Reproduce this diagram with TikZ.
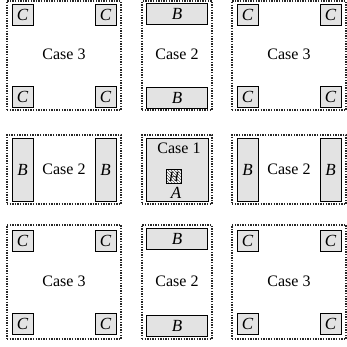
\documentclass[tikz,border=0pt]{standalone}
\usepackage{fontspec}
\setmainfont{Liberation Serif}
\usetikzlibrary{patterns}
\begin{document}
\begin{tikzpicture}[x=1pt,y=-1pt,
  cell/.style={draw=black!85, line width=1.1pt, dash pattern=on 1.4pt off 1.2pt, inner sep=0pt, outer sep=0pt},
  gbox/.style={draw=black, line width=0.8pt, fill=black!11, inner sep=0pt, font=\fontsize{17}{19}\selectfont\itshape},
  cbox/.style={gbox, minimum width=21pt, minimum height=21pt},
  hbox/.style={gbox, minimum width=61pt, minimum height=21pt},
  vbox/.style={gbox, minimum width=21pt, minimum height=63pt},
  lbl/.style={font=\fontsize{16}{18}\selectfont, inner sep=0pt}]
\useasboundingbox (0,0) rectangle (347,347);
% cells
\node[cell, minimum width=114pt, minimum height=109pt] (c11) at (64,55.5) {};
\node[cell, minimum width=70pt,  minimum height=109pt] (c12) at (177,55.5) {};
\node[cell, minimum width=114pt, minimum height=109pt] (c13) at (289,55.5) {};
\node[cell, minimum width=114pt, minimum height=69pt] (c21) at (64,169.5) {};
\node[cell, minimum width=70pt,  minimum height=69pt] (c22) at (177,169.5) {};
\node[cell, minimum width=114pt, minimum height=69pt] (c23) at (289,169.5) {};
\node[cell, minimum width=114pt, minimum height=114pt] (c31) at (64,282) {};
\node[cell, minimum width=70pt,  minimum height=114pt] (c32) at (177,282) {};
\node[cell, minimum width=114pt, minimum height=114pt] (c33) at (289,282) {};
% top-left case 3
\node[cbox] (c11a) at (22.5,14.5) {C};
\node[cbox] (c11b) at (105.5,14.5) {C};
\node[cbox] (c11c) at (22.5,96.5) {C};
\node[cbox] (c11d) at (105.5,96.5) {C};
\node[lbl] (l11) at (64,54) {Case 3};
% top-right case 3
\node[cbox] (c13a) at (247.5,14.5) {C};
\node[cbox] (c13b) at (330.5,14.5) {C};
\node[cbox] (c13c) at (247.5,96.5) {C};
\node[cbox] (c13d) at (330.5,96.5) {C};
\node[lbl] (l13) at (289,54) {Case 3};
% bottom-left case 3
\node[cbox] (c31a) at (22.5,240.5) {C};
\node[cbox] (c31b) at (105.5,240.5) {C};
\node[cbox] (c31c) at (22.5,323.5) {C};
\node[cbox] (c31d) at (105.5,323.5) {C};
\node[lbl] (l31) at (64,281) {Case 3};
% bottom-right case 3
\node[cbox] (c33a) at (247.5,240.5) {C};
\node[cbox] (c33b) at (330.5,240.5) {C};
\node[cbox] (c33c) at (247.5,323.5) {C};
\node[cbox] (c33d) at (330.5,323.5) {C};
\node[lbl] (l33) at (289,281) {Case 3};
% top-middle case 2
\node[hbox] (c12a) at (177,13.5) {B};
\node[hbox] (c12b) at (177,97.5) {B};
\node[lbl] (l12) at (177,54) {Case 2};
% bottom-middle case 2
\node[hbox] (c32a) at (177,238.5) {B};
\node[hbox] (c32b) at (177,325.5) {B};
\node[lbl] (l32) at (177,281) {Case 2};
% middle-left case 2
\node[vbox] (c21a) at (22.5,169.5) {B};
\node[vbox] (c21b) at (105.5,169.5) {B};
\node[lbl] (l21) at (64,169) {Case 2};
% middle-right case 2
\node[vbox] (c23a) at (247.5,169.5) {B};
\node[vbox] (c23b) at (330.5,169.5) {B};
\node[lbl] (l23) at (289,169) {Case 2};
% center case 1
\node[gbox, minimum width=62pt, minimum height=63pt] (cen) at (177,169.5) {};
\node[lbl] (l22) at (179,148) {Case 1};
\node[draw=black, line width=0.7pt, preaction={fill=white}, pattern=north west lines, pattern color=black!65, minimum width=15pt, minimum height=14pt, inner sep=0pt] (hb) at (174,176.5) {};
\node[inner sep=0pt, font=\fontsize{14}{16}\selectfont\itshape] (hl) at (hb.center) {H};
\node[lbl, font=\fontsize{17}{19}\selectfont\itshape] (al) at (176,192.5) {A};
\end{tikzpicture}
\end{document}
